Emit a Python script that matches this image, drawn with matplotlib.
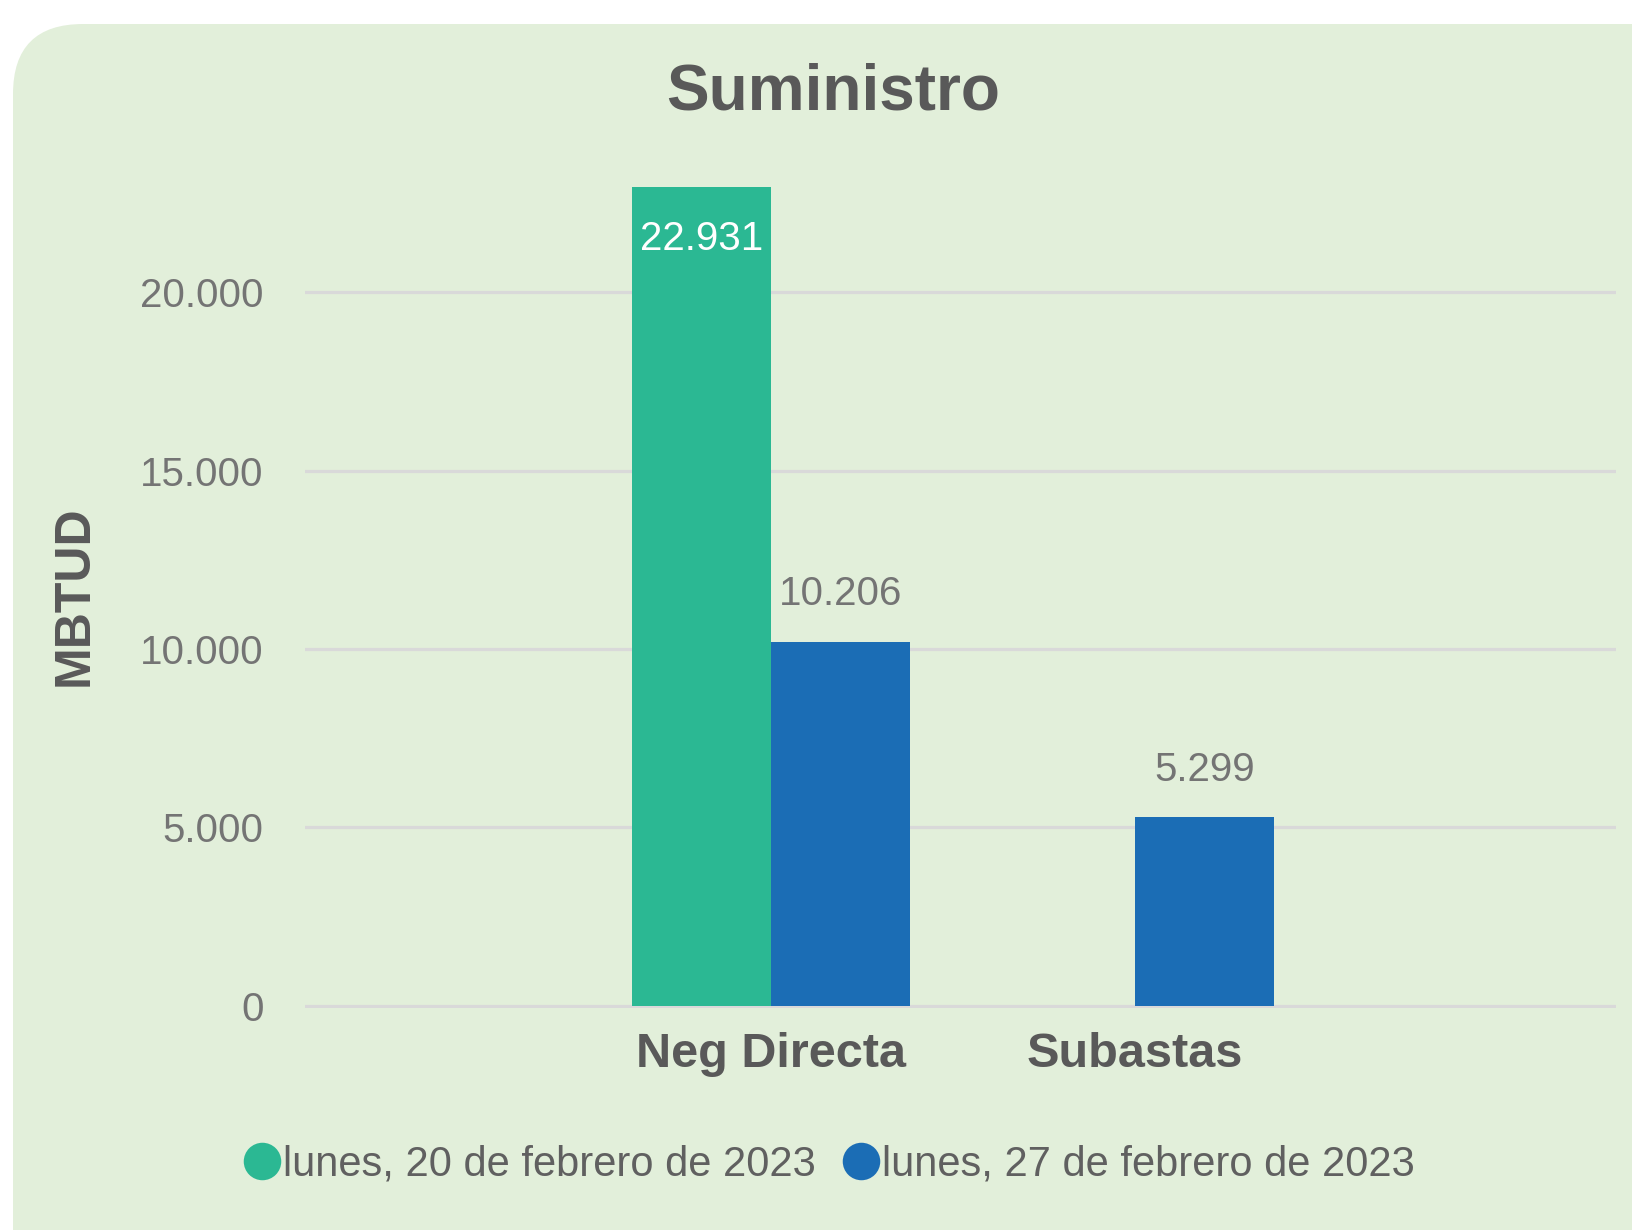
import numpy as np
import matplotlib
matplotlib.use("Agg")
import matplotlib.pyplot as plt
from matplotlib.patches import FancyBboxPatch
from matplotlib.lines import Line2D

# ---- data ----
categories = ["Neg Directa", "Subastas"]
series_labels = ["lunes, 20 de febrero de 2023", "lunes, 27 de febrero de 2023"]
feb20 = [22931, np.nan]
feb27 = [10206, 5299]
yticks = [0, 5000, 10000, 15000, 20000]

# ---- style ----
FONT = ["Liberation Sans", "DejaVu Sans"]
plt.rcParams["font.family"] = FONT
GREEN = "#2BB893"
BLUE = "#1B6DB5"
PANEL = "#E2EFDA"
GRID = "#D9D9D9"
DARK = "#595959"
GRAY = "#747474"

def fmt(v):
    return f"{v:,.0f}".replace(",", ".")

fig = plt.figure(figsize=(16.33, 12.30), dpi=100)
fig.patch.set_facecolor("white")

panel = FancyBboxPatch((0.13, -1.0), 18.0, 12.06 + 1.0,
                       boxstyle="round,pad=0,rounding_size=0.7",
                       transform=fig.dpi_scale_trans, facecolor=PANEL,
                       edgecolor="none", zorder=-10)
fig.patches.append(panel)

ax = fig.add_axes([0.1868, 0.1805, 0.8028, 0.7271])
ax.set_facecolor("none")
ax.set_zorder(1)

x = np.arange(len(categories))
w = 0.382
ax.bar(x - w / 2, feb20, w, color=GREEN, zorder=3, label=series_labels[0])
ax.bar(x + w / 2, feb27, w, color=BLUE, zorder=3, label=series_labels[1])

ax.set_xlim(-1.280, 2.321)
ax.set_ylim(-60, 25000)
ax.set_yticks(yticks)
ax.set_yticklabels([fmt(v) for v in yticks])
ax.set_xticks(x)
ax.set_xticklabels(categories, fontsize=35, fontweight="bold", color=DARK)
ax.tick_params(axis="y", length=0, pad=30, labelsize=29, labelcolor=GRAY)
ax.tick_params(axis="x", length=0, pad=17)
for s in ax.spines.values():
    s.set_visible(False)
ax.yaxis.grid(True, color=GRID, linewidth=2.3, zorder=1)
ax.set_axisbelow(True)

ax.set_ylabel("MBTUD", fontsize=36, fontweight="bold", color=DARK)
ax.yaxis.set_label_coords(-0.158, 0.4607)

# data labels
for xi, v in zip(x - w / 2, feb20):
    if not np.isnan(v):
        ax.annotate(fmt(v), (xi, v), xytext=(0, -37), textcoords="offset points",
                    ha="center", va="center", fontsize=29, color="white", zorder=4)
for xi, v in zip(x + w / 2, feb27):
    if not np.isnan(v):
        ax.annotate(fmt(v), (xi, v), xytext=(0, 34), textcoords="offset points",
                    ha="center", va="center", fontsize=29, color=GRAY, zorder=4)

fig.text(0.510, 0.9245, "Suministro", ha="center", va="center",
         fontsize=46, fontweight="bold", color=DARK)

handles = [Line2D([], [], marker="o", linestyle="none", markersize=27,
                  markerfacecolor=GREEN, markeredgecolor="none"),
           Line2D([], [], marker="o", linestyle="none", markersize=27,
                  markerfacecolor=BLUE, markeredgecolor="none")]
fig.legend(handles, series_labels, loc="center", bbox_to_anchor=(0.507, 0.0535),
           ncol=2, frameon=False, fontsize=30, handletextpad=0.0,
           columnspacing=0.6, handlelength=1.0, labelcolor="#606060")

fig.savefig("out.png", dpi=100, facecolor="white")
